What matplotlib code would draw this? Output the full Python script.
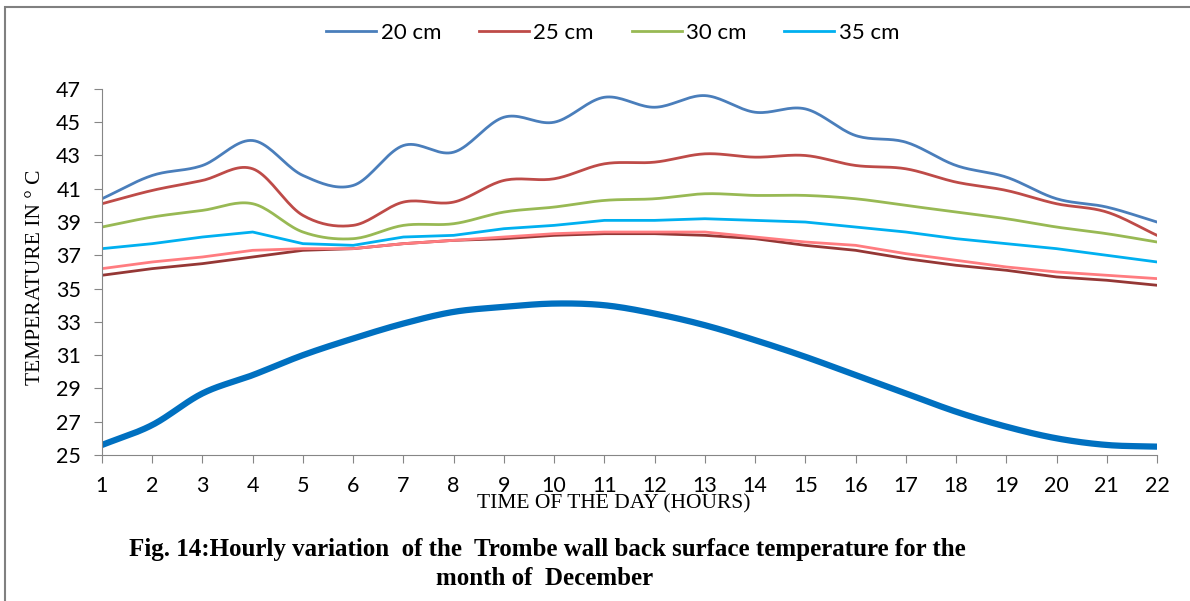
import numpy as np
import matplotlib
matplotlib.use("Agg")
import matplotlib.pyplot as plt
from matplotlib.patches import Rectangle

hours = list(range(1, 23))

t20 = [40.4, 41.8, 42.4, 43.9, 41.8, 41.2, 43.6, 43.2, 45.3, 45.0, 46.5,
       45.9, 46.6, 45.6, 45.8, 44.2, 43.8, 42.4, 41.7, 40.4, 39.9, 39.0]
t25 = [40.1, 40.9, 41.5, 42.2, 39.4, 38.8, 40.2, 40.2, 41.5, 41.6, 42.5,
       42.6, 43.1, 42.9, 43.0, 42.4, 42.2, 41.4, 40.9, 40.1, 39.6, 38.2]
t30 = [38.7, 39.3, 39.7, 40.1, 38.4, 38.0, 38.8, 38.9, 39.6, 39.9, 40.3,
       40.4, 40.7, 40.6, 40.6, 40.4, 40.0, 39.6, 39.2, 38.7, 38.3, 37.8]
t35 = [37.4, 37.7, 38.1, 38.4, 37.7, 37.6, 38.1, 38.2, 38.6, 38.8, 39.1,
       39.1, 39.2, 39.1, 39.0, 38.7, 38.4, 38.0, 37.7, 37.4, 37.0, 36.6]
t_pink = [36.2, 36.6, 36.9, 37.3, 37.4, 37.4, 37.7, 37.9, 38.1, 38.3, 38.4,
          38.4, 38.4, 38.1, 37.8, 37.6, 37.1, 36.7, 36.3, 36.0, 35.8, 35.6]
t_dark = [35.8, 36.2, 36.5, 36.9, 37.3, 37.4, 37.7, 37.9, 38.0, 38.2, 38.3,
          38.3, 38.2, 38.0, 37.6, 37.3, 36.8, 36.4, 36.1, 35.7, 35.5, 35.2]
t_amb = [25.6, 26.8, 28.7, 29.8, 31.0, 32.0, 32.9, 33.6, 33.9, 34.1, 34.0,
         33.5, 32.8, 31.9, 30.9, 29.8, 28.7, 27.6, 26.7, 26.0, 25.6, 25.5]


def smooth(x, y, n=20):
    # Catmull-Rom curve through the points, like Excel's smoothed line
    x = np.asarray(x, float)
    y = np.asarray(y, float)
    px = np.concatenate([[2 * x[0] - x[1]], x, [2 * x[-1] - x[-2]]])
    py = np.concatenate([[2 * y[0] - y[1]], y, [2 * y[-1] - y[-2]]])
    xs, ys = [], []
    t = np.linspace(0, 1, n, endpoint=False)
    for i in range(1, len(px) - 2):
        for p, out in ((px, xs), (py, ys)):
            p0, p1, p2, p3 = p[i - 1], p[i], p[i + 1], p[i + 2]
            out.extend(0.5 * ((2 * p1) + (-p0 + p2) * t
                              + (2 * p0 - 5 * p1 + 4 * p2 - p3) * t ** 2
                              + (-p0 + 3 * p1 - 3 * p2 + p3) * t ** 3))
    xs.append(x[-1])
    ys.append(y[-1])
    return xs, ys


fig = plt.figure(figsize=(11.9, 6.01), dpi=100)
ax = fig.add_axes([0.0857, 0.243, 0.8866, 0.609])

ax.plot(*smooth(hours, t_amb), color="#0070C0", lw=4.5, solid_capstyle="butt")
ax.plot(hours, t_dark, color="#953735", lw=2.0)
ax.plot(hours, t_pink, color="#FF7C80", lw=2.0)
l35, = ax.plot(hours, t35, color="#00B0F0", lw=2.0, label="35 cm")
l30, = ax.plot(*smooth(hours, t30), color="#98B954", lw=2.0, label="30 cm")
l25, = ax.plot(*smooth(hours, t25), color="#BE4B48", lw=2.0, label="25 cm")
l20, = ax.plot(*smooth(hours, t20), color="#4A7EBB", lw=2.0, label="20 cm")

ax.set_xlim(1, 22)
ax.set_ylim(25, 47)
ax.set_xticks(hours)
ax.set_yticks(range(25, 48, 2))
for s in ("top", "right"):
    ax.spines[s].set_visible(False)
for s in ("left", "bottom"):
    ax.spines[s].set_color("#868686")
ax.tick_params(direction="out", length=6, color="#868686", labelsize=15.5, pad=9)
for lab in ax.get_xticklabels() + ax.get_yticklabels():
    lab.set_family(["Lato", "DejaVu Sans"])

fig.text(0.03, 0.539, "TEMPERATURE IN ° C", rotation=90, ha="center", va="center",
         family="Liberation Serif", fontsize=15.5)
fig.text(0.516, 0.162, "TIME OF THE DAY (HOURS)", ha="center", va="center",
         family="Liberation Serif", fontsize=15.5)

fig.text(0.46, 0.086, "Fig. 14:Hourly variation  of the  Trombe wall back surface temperature for the",
         ha="center", va="center", family="Liberation Serif", fontweight="bold", fontsize=18)
fig.text(0.458, 0.038, "month of  December", ha="center", va="center",
         family="Liberation Serif", fontweight="bold", fontsize=18)

fig.legend(handles=[l20, l25, l30, l35], loc="center", bbox_to_anchor=(0.515, 0.945),
           ncol=4, frameon=False, handlelength=2.25, columnspacing=1.7, handletextpad=0.2,
           prop={"family": ["Lato", "DejaVu Sans"], "size": 16})

fig.patches.append(Rectangle((0.004, -0.1), 1.2, 1.088, transform=fig.transFigure,
                             fill=False, edgecolor="#808080", lw=1.5))

fig.savefig("out.png", dpi=100)
